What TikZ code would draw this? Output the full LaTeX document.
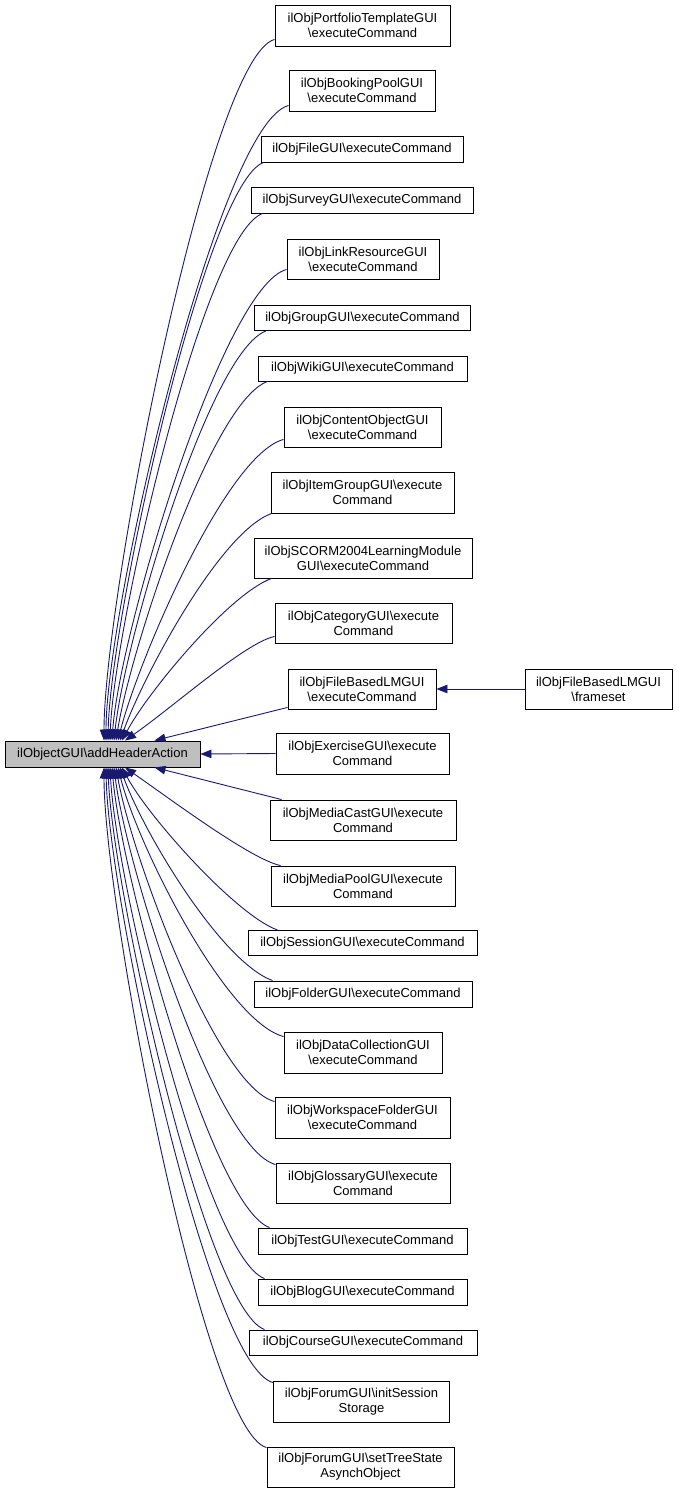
\documentclass[tikz,border=0pt]{standalone}
\usepackage{fontspec}
\setmainfont{Liberation Sans}
\usetikzlibrary{arrows.meta}
\definecolor{edgeblue}{HTML}{191970}
\definecolor{mainfill}{HTML}{BFBFBF}
\tikzset{
  box/.style={draw=black, line width=0.9pt, fill=white, rectangle, inner sep=0pt,
    align=center, font=\fontsize{13}{15}\selectfont},
  mainbox/.style={box, fill=mainfill},
  edge/.style={draw=edgeblue, line width=0.9pt, -{Triangle[length=11pt,width=8.5pt]}, fill=none},
}
\newcommand{\bs}{\textbackslash}
\begin{document}
\begin{tikzpicture}[x=1pt,y=1pt]
\useasboundingbox (0,0) rectangle (679,-1493);
% main node
\node[mainbox, minimum width=195pt, minimum height=26pt] (m) at (102.5,-754) {ilObjectGUI\bs addHeaderAction};
% children
\node[box, minimum width=175pt, minimum height=41pt] (n1) at (362.5,-25.5) {ilObjPortfolioTemplateGUI\\\bs executeCommand};
\node[box, minimum width=146pt, minimum height=41pt] (n2) at (362,-90.5) {ilObjBookingPoolGUI\\\bs executeCommand};
\node[box, minimum width=202pt, minimum height=26pt] (n3) at (362,-149) {ilObjFileGUI\bs executeCommand};
\node[box, minimum width=222pt, minimum height=26pt] (n4) at (362,-200) {ilObjSurveyGUI\bs executeCommand};
\node[box, minimum width=152pt, minimum height=40pt] (n5) at (363,-259) {ilObjLinkResourceGUI\\\bs executeCommand};
\node[box, minimum width=216pt, minimum height=25pt] (n6) at (362.5,-318) {ilObjGroupGUI\bs executeCommand};
\node[box, minimum width=209pt, minimum height=25pt] (n7) at (362.5,-368.5) {ilObjWikiGUI\bs executeCommand};
\node[box, minimum width=157pt, minimum height=40pt] (n8) at (362.5,-427) {ilObjContentObjectGUI\\\bs executeCommand};
\node[box, minimum width=183pt, minimum height=41pt] (n9) at (362.5,-492.5) {ilObjItemGroupGUI\bs execute\\Command};
\node[box, minimum width=218pt, minimum height=40pt] (n10) at (363,-558) {ilObjSCORM2004LearningModule\\GUI\bs executeCommand};
\node[box, minimum width=177pt, minimum height=40pt] (n11) at (363.5,-623) {ilObjCategoryGUI\bs execute\\Command};
\node[box, minimum width=148pt, minimum height=40pt] (n12) at (362,-689) {ilObjFileBasedLMGUI\\\bs executeCommand};
\node[box, minimum width=147pt, minimum height=40pt] (n13) at (598.5,-689) {ilObjFileBasedLMGUI\\\bs frameset};
\node[box, minimum width=173pt, minimum height=41pt] (n14) at (362.5,-753.5) {ilObjExerciseGUI\bs execute\\Command};
\node[box, minimum width=186pt, minimum height=40pt] (n15) at (363,-820) {ilObjMediaCastGUI\bs execute\\Command};
\node[box, minimum width=184pt, minimum height=40pt] (n16) at (363,-886) {ilObjMediaPoolGUI\bs execute\\Command};
\node[box, minimum width=229pt, minimum height=25pt] (n17) at (362.5,-943) {ilObjSessionGUI\bs executeCommand};
\node[box, minimum width=218pt, minimum height=26pt] (n18) at (363,-994) {ilObjFolderGUI\bs executeCommand};
\node[box, minimum width=158pt, minimum height=41pt] (n19) at (363,-1052.5) {ilObjDataCollectionGUI\\\bs executeCommand};
\node[box, minimum width=175pt, minimum height=41pt] (n20) at (362.5,-1117.5) {ilObjWorkspaceFolderGUI\\\bs executeCommand};
\node[box, minimum width=174pt, minimum height=40pt] (n21) at (363,-1183) {ilObjGlossaryGUI\bs execute\\Command};
\node[box, minimum width=209pt, minimum height=26pt] (n22) at (362.5,-1241) {ilObjTestGUI\bs executeCommand};
\node[box, minimum width=209pt, minimum height=26pt] (n23) at (362.5,-1292) {ilObjBlogGUI\bs executeCommand};
\node[box, minimum width=228pt, minimum height=25pt] (n24) at (363,-1342.5) {ilObjCourseGUI\bs executeCommand};
\node[box, minimum width=176pt, minimum height=41pt] (n25) at (361.5,-1401.5) {ilObjForumGUI\bs initSession\\Storage};
\node[box, minimum width=187pt, minimum height=40pt] (n26) at (360.5,-1467) {ilObjForumGUI\bs setTreeState\\AsynchObject};
% upper edges
\draw[edge] ([yshift=7pt]n1.south west) to[out=195,in=90,out distance=68pt,in distance=140pt] ([xshift=1.5pt]m.north);
\draw[edge] ([yshift=6pt]n2.south west) to[out=195,in=90,out distance=73pt,in distance=130pt] ([xshift=3.5pt]m.north);
\draw[edge] ([xshift=3pt]n3.south west) to[out=200,in=89,out distance=62pt,in distance=120pt] ([xshift=5.5pt]m.north);
\draw[edge] ([xshift=12pt]n4.south west) to[out=200,in=88,out distance=62pt,in distance=115pt] ([xshift=7.5pt]m.north);
\draw[edge] ([yshift=10pt]n5.south west) to[out=195,in=86,out distance=65pt,in distance=110pt] ([xshift=9.5pt]m.north);
\draw[edge] ([xshift=12pt]n6.south west) to[out=200,in=84,out distance=60pt,in distance=100pt] ([xshift=11.5pt]m.north);
\draw[edge] ([xshift=10pt]n7.south west) to[out=200,in=81,out distance=60pt,in distance=90pt] ([xshift=13.5pt]m.north);
\draw[edge] ([yshift=8pt]n8.south west) to[out=195,in=76,out distance=60pt,in distance=80pt] ([xshift=15.5pt]m.north);
\draw[edge] ([xshift=1pt]n9.south west) to[out=200,in=70,out distance=55pt,in distance=70pt] ([xshift=17.5pt]m.north);
\draw[edge] ([xshift=18pt]n10.south west) to[out=200,in=62,out distance=45pt,in distance=55pt] ([xshift=19.5pt]m.north);
\draw[edge] ([yshift=7pt]n11.south west) to[out=192,in=35,out distance=30pt,in distance=60pt] ([xshift=22.5pt]m.north);
\draw[edge] ([yshift=2pt]n12.south west) -- ([xshift=52pt]m.north);
\draw[edge] (n13.west) -- (n12.east);
\draw[edge] (n14.west) -- (m.east);
% lower edges
\draw[edge] ([xshift=12pt]n15.north west) -- ([xshift=52pt]m.south);
\draw[edge] ([xshift=10pt]n16.north west) to[out=168,in=325,out distance=30pt,in distance=60pt] ([xshift=22.5pt]m.south);
\draw[edge] ([xshift=30pt]n17.north west) to[out=160,in=298,out distance=45pt,in distance=55pt] ([xshift=19.5pt]m.south);
\draw[edge] ([xshift=19pt]n18.north west) to[out=160,in=290,out distance=55pt,in distance=70pt] ([xshift=17.5pt]m.south);
\draw[edge] ([yshift=-5pt]n19.north west) to[out=165,in=284,out distance=60pt,in distance=80pt] ([xshift=15.5pt]m.south);
\draw[edge] ([yshift=-5pt]n20.north west) to[out=165,in=280,out distance=60pt,in distance=90pt] ([xshift=13.5pt]m.south);
\draw[edge] ([yshift=-2pt]n21.north west) to[out=165,in=277,out distance=62pt,in distance=100pt] ([xshift=11.5pt]m.south);
\draw[edge] ([xshift=12pt]n22.north west) to[out=160,in=275,out distance=62pt,in distance=108pt] ([xshift=9.5pt]m.south);
\draw[edge] ([xshift=7pt]n23.north west) to[out=160,in=273,out distance=62pt,in distance=115pt] ([xshift=7.5pt]m.south);
\draw[edge] ([xshift=16pt]n24.north west) to[out=160,in=272,out distance=63pt,in distance=120pt] ([xshift=5.5pt]m.south);
\draw[edge] ([yshift=-2pt]n25.north west) to[out=165,in=271,out distance=67pt,in distance=128pt] ([xshift=3.5pt]m.south);
\draw[edge] ([yshift=-1pt]n26.north west) to[out=165,in=270,out distance=65pt,in distance=136pt] ([xshift=1.5pt]m.south);
\end{tikzpicture}
\end{document}
